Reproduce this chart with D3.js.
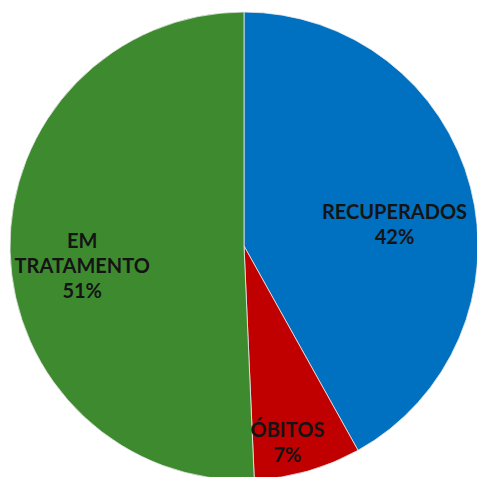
<!DOCTYPE html>
<html>
<head>
<meta charset="utf-8">
<script src="https://cdn.jsdelivr.net/npm/d3@7"></script>
<style>
  html, body { margin: 0; padding: 0; background: #fff; }
  svg { display: block; }
</style>
</head>
<body>
<svg id="chart"></svg>
<script>
// categories and shares, clockwise from 12 o'clock
const categories = ["RECUPERADOS", "ÓBITOS", "EM TRATAMENTO"];
const values = [41.9, 7.4, 50.7];
const colours = ["#0070C0", "#C00000", "#3E8B2F"];

const width = 477, height = 477;
const cx = 244, cy = 246, radius = 234;

// where each label sits: [angle in degrees from top, distance from centre]
const label_pos = [[82, 152], [167.5, 201], [263, 163]];
// line breaks for the labels
const label_lines = [["RECUPERADOS"], ["ÓBITOS"], ["EM", "TRATAMENTO"]];

const svg = d3.select("#chart")
    .attr("width", width)
    .attr("height", height);

const data = categories.map((c, i) => ({cat: c, value: values[i], i: i}));

const pie = d3.pie()
    .value(d => d.value)
    .sort(null);

const arc = d3.arc()
    .innerRadius(0)
    .outerRadius(radius);

const arcs = pie(data);
const total = d3.sum(values);

const g = svg.append("g")
    .attr("transform", `translate(${cx},${cy})`);

g.selectAll("path")
    .data(arcs)
    .join("path")
    .attr("d", arc)
    .attr("fill", d => colours[d.data.i])
    .attr("stroke", "#e8e8e8")
    .attr("stroke-width", 0.8);

const line_h = 25;

g.selectAll("text.label")
    .data(arcs)
    .join("text")
    .attr("class", "label")
    .attr("font-family", "Lato, 'Open Sans', sans-serif")
    .attr("font-weight", "bold")
    .attr("font-size", 20)
    .attr("fill", "#141414")
    .attr("text-anchor", "middle")
    .each(function(d){
        const [a, r] = label_pos[d.data.i];
        const rad = a * Math.PI / 180;
        const x = r * Math.sin(rad), y = -r * Math.cos(rad);
        const lines = label_lines[d.data.i].concat([Math.round(d.data.value / total * 100) + "%"]);
        const y0 = y - (lines.length - 1) * line_h / 2 + 7;
        d3.select(this).selectAll("tspan")
            .data(lines)
            .join("tspan")
            .attr("x", x)
            .attr("y", (t, k) => y0 + k * line_h)
            .text(t => t);
    });
</script>
</body>
</html>
